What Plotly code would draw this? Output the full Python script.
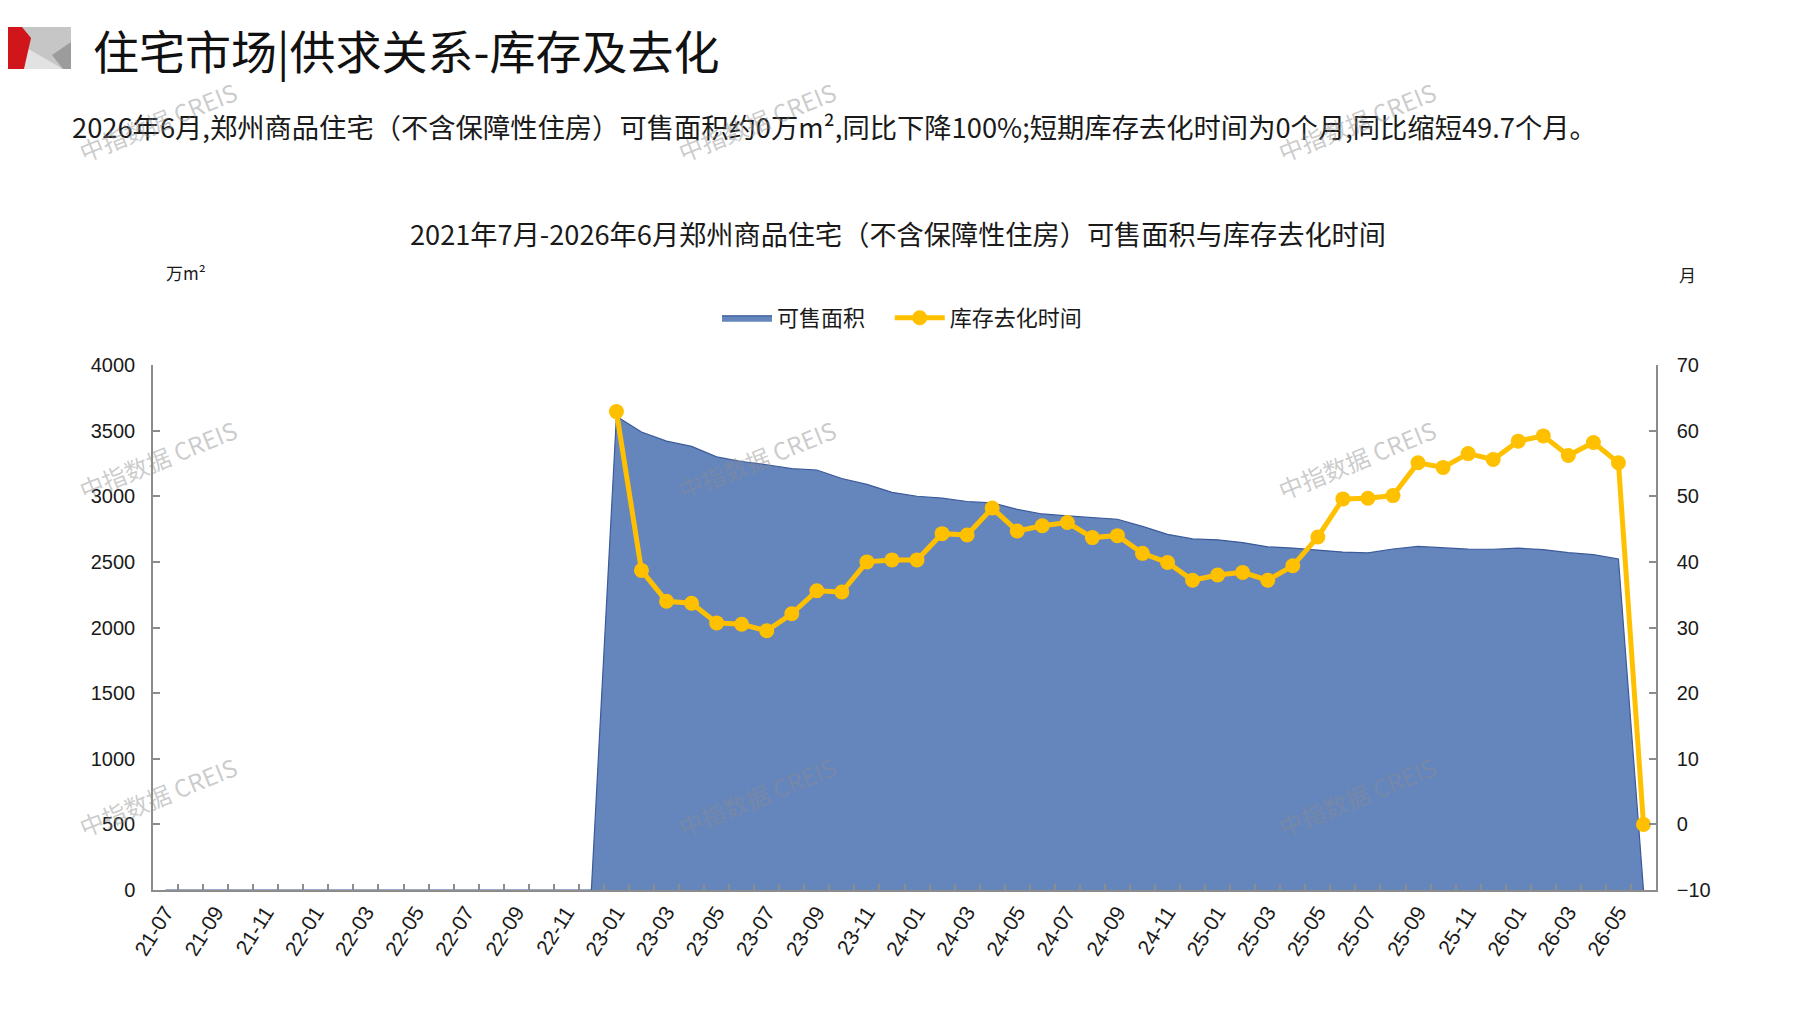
import plotly.graph_objects as go

months = [
    "21-07", "21-08", "21-09", "21-10", "21-11", "21-12",
    "22-01", "22-02", "22-03", "22-04", "22-05", "22-06",
    "22-07", "22-08", "22-09", "22-10", "22-11", "22-12",
    "23-01", "23-02", "23-03", "23-04", "23-05", "23-06",
    "23-07", "23-08", "23-09", "23-10", "23-11", "23-12",
    "24-01", "24-02", "24-03", "24-04", "24-05", "24-06",
    "24-07", "24-08", "24-09", "24-10", "24-11", "24-12",
    "25-01", "25-02", "25-03", "25-04", "25-05", "25-06",
    "25-07", "25-08", "25-09", "25-10", "25-11", "25-12",
    "26-01", "26-02", "26-03", "26-04", "26-05", "26-06",
]

# 可售面积 (万m²)
area_values = [
    0, 0, 0, 0, 0, 0,
    0, 0, 0, 0, 0, 0,
    0, 0, 0, 0, 0, 0,
    3610, 3490, 3420, 3380, 3300, 3265,
    3240, 3210, 3200, 3135, 3090, 3030,
    3000, 2985, 2960, 2950, 2900, 2865,
    2850, 2840, 2825, 2770, 2710, 2675,
    2668, 2647, 2615, 2605, 2590, 2575,
    2568, 2598, 2618, 2609, 2597, 2596,
    2604, 2594, 2570, 2555, 2522, 0,
]

# 库存去化时间 (月)
months_values = [
    None, None, None, None, None, None,
    None, None, None, None, None, None,
    None, None, None, None, None, None,
    62.9, 38.7, 34.0, 33.7, 30.7, 30.5,
    29.5, 32.1, 35.6, 35.4, 40.0, 40.3,
    40.3, 44.3, 44.1, 48.2, 44.7, 45.5,
    46.0, 43.7, 44.0, 41.3, 39.9, 37.2,
    38.0, 38.4, 37.2, 39.4, 43.8, 49.6,
    49.7, 50.1, 55.1, 54.4, 56.5, 55.6,
    58.4, 59.2, 56.2, 58.2, 55.1, 0,
]

tick_text = [m if i % 2 == 0 else "" for i, m in enumerate(months)]

W, H = 1781, 994
L, R, T, B = 145, 1648, 357, 882


def px(x):
    return (x - L) / (R - L)


def py(y):
    return (B - y) / (B - T)


fig = go.Figure()

fig.add_trace(go.Scatter(
    x=months, y=area_values, name="可售面积\u00a0\u00a0\u00a0\u00a0",
    mode="lines", fill="tozeroy",
    fillcolor="#6585BD", line=dict(color="#3B5A9A", width=1.2),
    yaxis="y", hoverinfo="x+y",
))

fig.add_trace(go.Scatter(
    x=months, y=months_values, name="库存去化时间",
    mode="lines+markers",
    line=dict(color="#FFC000", width=5),
    marker=dict(color="#FFC000", size=15),
    yaxis="y2", connectgaps=False,
))

axis_color = "#8C8C8C"
tick_font = dict(family="Liberation Sans, Arial, sans-serif", size=20, color="#1a1a1a")
xtick_font = dict(family="Liberation Sans, Arial, sans-serif", size=21, color="#1a1a1a")

fig.update_layout(
    width=W, height=H,
    margin=dict(l=L, r=W - R, t=T, b=H - B),
    paper_bgcolor="white", plot_bgcolor="white",
    showlegend=True,
    legend=dict(
        orientation="h", x=px(894), xanchor="center", y=py(310), yanchor="middle",
        font=dict(family="Noto Sans CJK SC", size=22, color="#1a1a1a"),
        itemwidth=50, bgcolor="rgba(0,0,0,0)", tracegroupgap=0,
    ),
    xaxis=dict(
        type="category", range=[-0.5, len(months) - 0.5],
        tickmode="array", tickvals=months, ticktext=tick_text,
        tickson="boundaries", ticks="inside", ticklen=6, tickcolor=axis_color,
        tickwidth=1.5,
        showline=True, linecolor=axis_color, linewidth=1.5,
        showgrid=False, zeroline=False,
        tickangle=-58, tickfont=xtick_font,
    ),
    yaxis=dict(
        range=[0, 4000], dtick=500, tick0=0,
        ticks="inside", ticklen=7, tickcolor=axis_color, tickwidth=1.5,
        showline=True, linecolor=axis_color, linewidth=1.5,
        showgrid=False, zeroline=False, tickfont=tick_font,
        ticklabelstandoff=12,
    ),
    yaxis2=dict(
        range=[-10, 70], dtick=10, tick0=-10,
        overlaying="y", side="right",
        ticks="inside", ticklen=7, tickcolor=axis_color, tickwidth=1.5,
        showline=True, linecolor=axis_color, linewidth=1.5,
        showgrid=False, zeroline=False, tickfont=tick_font,
        ticklabelstandoff=15,
    ),
)

annotations = [
    dict(text="住宅市场|供求关系-库存及去化", x=px(83), y=py(41), xanchor="left", yanchor="middle",
         font=dict(family="Noto Sans CJK SC", size=46, color="#111111")),
    dict(text="2026年6月,郑州商品住宅（不含保障性住房）可售面积约0万m²,同比下降100%;短期库存去化时间为0个月,同比缩短49.7个月。",
         x=px(62), y=py(118), xanchor="left", yanchor="middle",
         font=dict(family="Noto Sans CJK SC", size=27.3, color="#1a1a1a")),
    dict(text="2021年7月-2026年6月郑州商品住宅（不含保障性住房）可售面积与库存去化时间",
         x=px(890), y=py(225), xanchor="center", yanchor="middle",
         font=dict(family="Noto Sans CJK SC", size=27.2, color="#1a1a1a")),
    dict(text="万m²", x=px(178), y=py(264), xanchor="center", yanchor="middle",
         font=dict(family="Noto Sans CJK SC", size=17, color="#1a1a1a")),
    dict(text="月", x=px(1679), y=py(266), xanchor="center", yanchor="middle",
         font=dict(family="Noto Sans CJK SC", size=17, color="#1a1a1a")),
]

for wx in (149, 748, 1348):
    for wy in (113, 451, 788):
        annotations.append(dict(
            text="中指数据 CREIS", x=px(wx), y=py(wy), xanchor="center", yanchor="middle",
            textangle=-22, font=dict(family="Noto Sans CJK SC", size=24, color="rgba(140,140,140,0.45)"),
        ))

for a in annotations:
    a.update(xref="paper", yref="paper", showarrow=False)
fig.update_layout(annotations=annotations)


def path(points):
    return "M " + " L ".join(f"{px(x - 9):.5f},{py(y - 9):.5f}" for x, y in points) + " Z"


logo = [
    ([(0, 28), (72, 28), (72, 70), (0, 70)], "#C6C6C6"),
    ([(26, 48), (64, 70), (24, 70)], "#E2E2E2"),
    ([(53, 56), (72, 43), (72, 70), (64, 70)], "#9C9C9C"),
    ([(0, 28), (23, 28), (32, 39), (25, 70), (0, 70)], "#D0161B"),
]
shapes = []
for pts, col in logo:
    shapes.append(dict(type="path", path=path(pts), xref="paper", yref="paper",
                       fillcolor=col, line=dict(width=0), layer="above"))
fig.update_layout(shapes=shapes)

fig.write_html("out.html")
